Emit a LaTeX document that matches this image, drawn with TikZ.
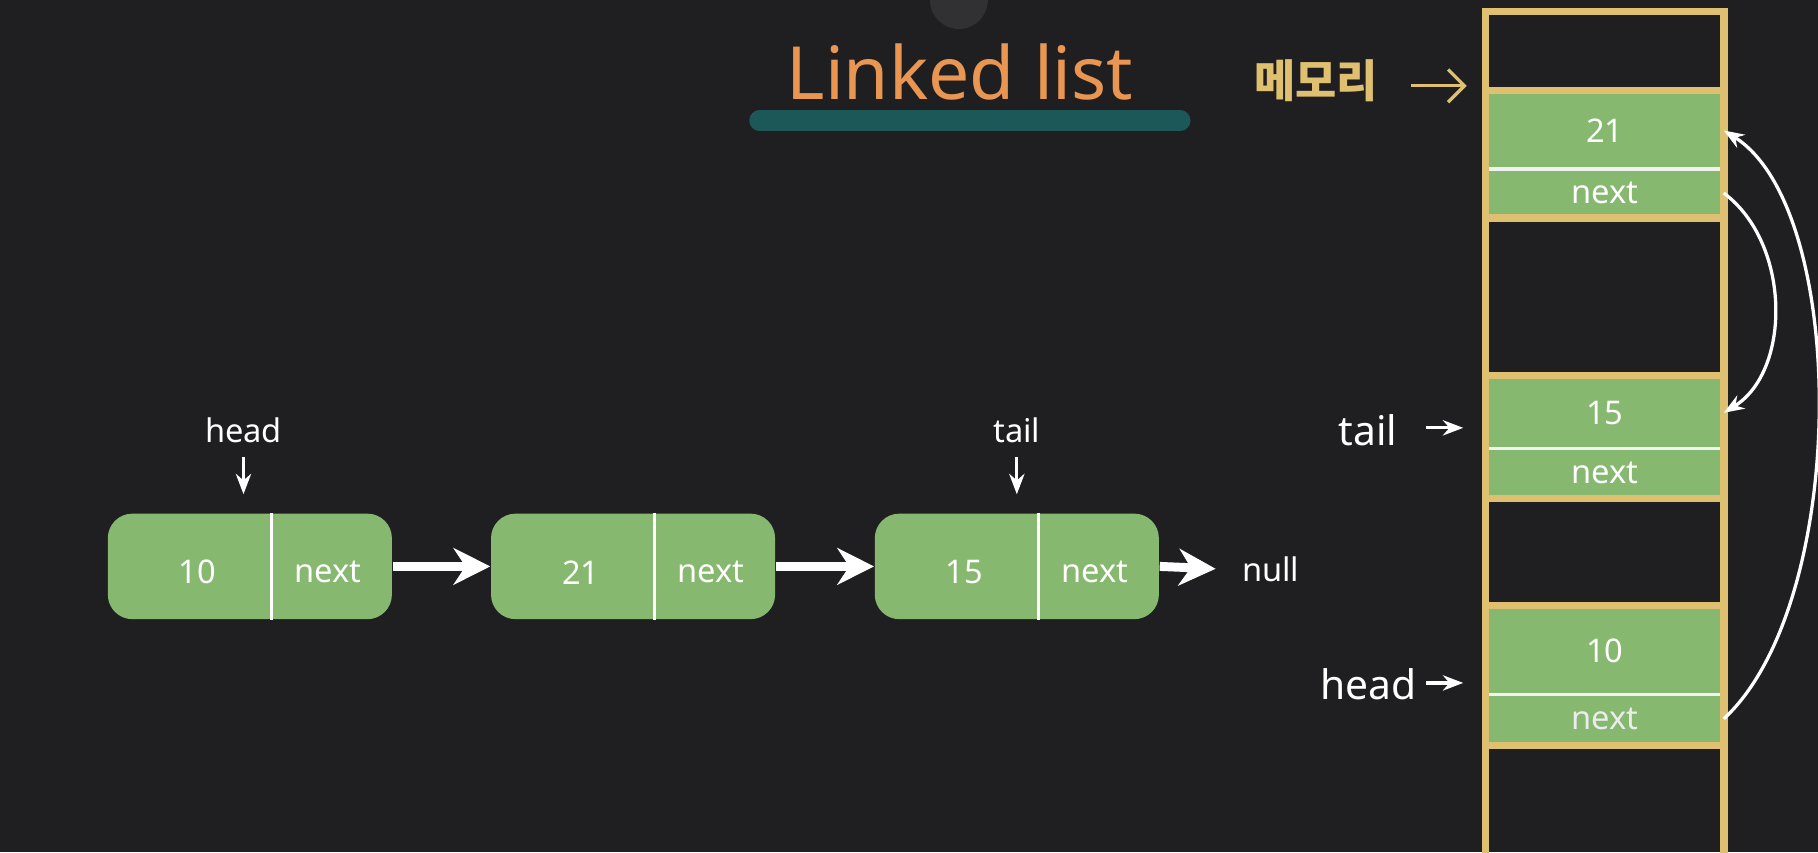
\documentclass[tikz,border=0pt]{standalone}
\usepackage{fontspec}
\setmainfont{Noto Sans}
\newfontfamily\krfont{Noto Sans CJK KR}
\usetikzlibrary{arrows.meta, positioning, calc}
\definecolor{bg}{RGB}{31,31,33}
\definecolor{cellgreen}{RGB}{134,184,112}
\definecolor{gold}{RGB}{222,192,112}
\definecolor{titleorange}{RGB}{232,150,82}
\definecolor{barteal}{RGB}{28,88,88}

\tikzset{
  listnode/.style={rectangle, rounded corners=6pt, fill=cellgreen, minimum width=2.45cm, minimum height=0.91cm},
  memcell/.style={rectangle, fill=cellgreen, minimum width=2.04cm, inner sep=0pt, text=white, font=\fontsize{8}{9}\selectfont},
  pointer/.style={-{Stealth[length=5pt]}, white, thick},
  link/.style={-{Stealth[length=9pt,width=9pt]}, white, line width=2.2pt},
}

\begin{document}
\begin{tikzpicture}[x=1cm, y=1cm, text=white, font=\fontsize{8}{9}\selectfont]
        \fill[bg] (0,0) rectangle (15.68,-7.35);
        \useasboundingbox (0,0) rectangle (15.68,-7.35);
        \fill[white!8!bg] (8.27,0) circle (0.25);

         %title
        \node[text=titleorange, font=\fontsize{18}{18}\selectfont] (title) at (8.28,-0.62) {Linked list};
        \draw[barteal, line width=5pt, line cap=round] (6.55,-1.04) -- (10.18,-1.04);

         %list nodes
        \node[listnode] (n0) at (2.155,-4.885) {};
        \node[listnode] (n1) at (5.46,-4.885) {};
        \node[listnode] (n2) at (8.77,-4.885) {};
        \foreach \n/\val in {n0/10, n1/21, n2/15} {
            \draw[white, thick] ($(\n.north west)+(1.42,0)$) -- ($(\n.south west)+(1.42,0)$);
            \node at ($(\n.west)+(0.78,-0.05)$) {\val};
            \node at ($(\n.east)+(-0.56,-0.05)$) {next};
        }
        \node (null) at (10.96,-4.91) {null};
        \draw[link] (n0.east) -- (n1.west);
        \draw[link] (n1.east) -- (n2.west);
        \draw[link, shorten >=3pt] (n2.east) -- (null.west);

        \node (lhead) at (2.10,-3.71) {head};
        \node (ltail) at (8.77,-3.71) {tail};
        \draw[pointer] (lhead.south) -- ++(0,-0.32);
        \draw[pointer] (ltail.south) -- ++(0,-0.32);

         %memory column
        \node[memcell, minimum height=0.65cm] (m21) at (13.84,-1.125) {21};
        \node[memcell, minimum height=0.39cm] (x21) at (13.84,-1.665) {next};
        \node[memcell, minimum height=0.60cm] (m15) at (13.84,-3.56) {15};
        \node[memcell, minimum height=0.40cm] (x15) at (13.84,-4.08) {next};
        \node[memcell, minimum height=0.74cm] (m10) at (13.84,-5.61) {10};
        \node[memcell, minimum height=0.41cm, text=white!85!gray] (x10) at (13.84,-6.20) {next};
        \foreach \n in {m21, m15, m10}
            \draw[white!90!gray, thick] (\n.south west) -- (\n.south east);
        \draw[gold, line width=1.8pt] (12.81,-7.5) -- (12.81,-0.10) -- (14.87,-0.10) -- (14.87,-7.5);
        \foreach \y in {-0.78, -1.88, -3.24, -4.30, -5.22, -6.43}
            \draw[gold, line width=1.8pt] (12.81,\y) -- (14.87,\y);

         %memory labels
        \node[text=gold, font=\krfont\bfseries\fontsize{11}{12}\selectfont] (mem) at (11.35,-0.70) {메모리};
        \draw[-{Straight Barb[length=4pt]}, gold, thick] (12.17,-0.74) -- (12.65,-0.74);
        \node[font=\bfseries\fontsize{10}{11}\selectfont] (mtail) at (11.80,-3.71) {tail};
        \node[font=\bfseries\fontsize{10}{11}\selectfont] (mhead) at (11.80,-5.90) {head};
        \draw[pointer] (12.30,-3.69) -- (12.62,-3.69);
        \draw[pointer] (12.30,-5.89) -- (12.62,-5.89);

         %links in memory
        \draw[pointer] (x21.east) .. controls (15.45,-2.1) and (15.45,-3.2) .. (m15.east);
        \draw[pointer] (x10.east) .. controls (15.95,-5.2) and (15.95,-1.8) .. (m21.east);
\end{tikzpicture}
\end{document}
